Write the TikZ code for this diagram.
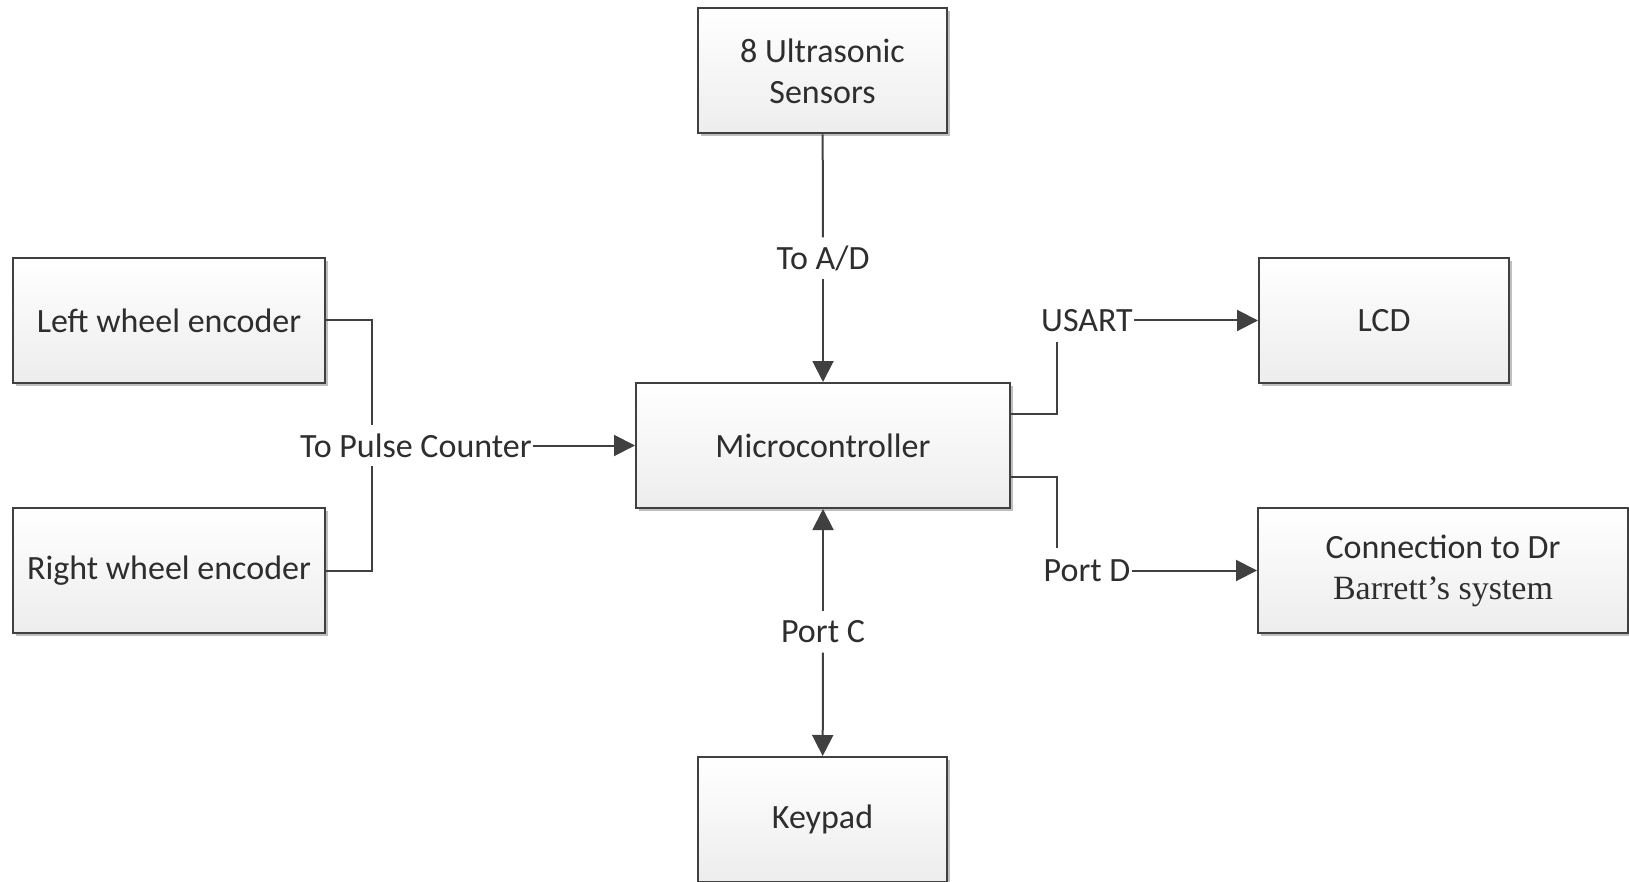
\documentclass[tikz,border=0pt]{standalone}
\usepackage{fontspec}
\setmainfont{Carlito}
\newfontfamily\timesfont{Liberation Serif}
\usetikzlibrary{arrows.meta,shadows,calc}
\definecolor{ln}{HTML}{404040}
\definecolor{tx}{HTML}{2E2E2E}
\definecolor{boxbot}{HTML}{EDEDED}
\begin{document}
\begin{tikzpicture}[x=1pt,y=-1pt,
  font=\fontsize{34}{41}\selectfont, text=tx,
  blk/.style={draw=ln, line width=2pt, rectangle, top color=white, bottom color=boxbot,
    minimum height=125pt, align=center, inner sep=0pt,
    drop shadow={shadow xshift=3pt, shadow yshift=-3pt, opacity=0.25, fill=black}},
  lbl/.style={fill=white, inner xsep=1pt, inner ysep=0pt, minimum height=41pt},
  wire/.style={draw=ln, line width=2pt},
  arr/.style={wire, -{Triangle[length=21pt,width=21pt]}},
  darr/.style={wire, {Triangle[length=21pt,width=21pt]}-{Triangle[length=21pt,width=21pt]}}
]
\useasboundingbox (0,0) rectangle (1629,882);
\clip (0,0) rectangle (1629,882);
% boxes
\node[blk, minimum width=249pt] (us) at (822.5,71) {8 Ultrasonic\\Sensors};
\node[blk, minimum width=312pt] (lw) at (169,320.5) {Left wheel encoder};
\node[blk, minimum width=312pt] (rw) at (169,570.5) {Right wheel encoder};
\node[blk, minimum width=374pt] (mc) at (823,445.5) {Microcontroller};
\node[blk, minimum width=250pt] (lcd) at (1384,320.5) {LCD};
\node[blk, minimum width=370pt] (conn) at (1443,570.5) {Connection to Dr\\{\timesfont Barrett’s system}};
\node[blk, minimum width=249pt] (kp) at (822.5,819.5) {Keypad};
% junctions
\coordinate (j) at (372,445.5);
\coordinate (ju) at (1057,342);
\coordinate (jd) at (1057,548);
\coordinate (mcu) at ($(mc.north east)!0.25!(mc.south east)$);
\coordinate (mcd) at ($(mc.north east)!0.75!(mc.south east)$);
% encoder bracket
\draw[wire] (lw.east) -| (j) |- (rw.east);
% labels
\node[lbl] (ad) at (823,258) {To A/D};
\node[lbl] (pc) at (416,445.5) {To Pulse Counter};
\node[lbl] (usart) at (1087,320.5) {USART};
\node[lbl] (pd) at (1087,570.5) {Port D};
\node[lbl] (portc) at (823,632) {Port C};
% connectors
\draw[wire] (us) -- (ad);
\draw[arr] (ad) -- (mc);
\draw[arr] (pc) -- (mc);
\draw[wire] (mcu) -| (ju);
\draw[arr] (usart) -- (lcd);
\draw[wire] (mcd) -| (jd);
\draw[arr] (pd) -- (conn);
\draw[arr] (portc) -- (mc);
\draw[arr] (portc) -- (kp);
\end{tikzpicture}
\end{document}
